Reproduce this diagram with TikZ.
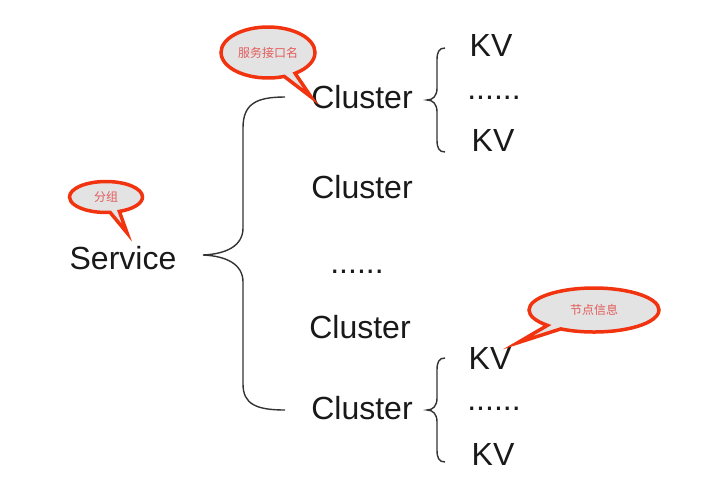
\documentclass[tikz,border=0pt]{standalone}
\usepackage{fontspec}
\setmainfont{Liberation Sans}
\newfontfamily\cjk{Noto Sans CJK SC}
\usetikzlibrary{shapes.callouts,calc}
\definecolor{bubbleline}{HTML}{F2330F}
\definecolor{bubblefill}{HTML}{E3E3E3}
\definecolor{bubbletext}{HTML}{E25B5B}
\definecolor{bracegray}{HTML}{333333}

\begin{document}
\begin{tikzpicture}[x=1pt,y=-1pt,
    word/.style = {inner sep=0pt, text height=22pt, text depth=0pt,
        font=\fontsize{32}{37}\selectfont, text=black!90},
    bubble/.style = {ellipse callout, draw=bubbleline, fill=bubblefill,
        line width=3.5pt, inner sep=0pt, text=bubbletext,
        font=\cjk\fontsize{12}{14}\selectfont},
    brace/.style = {draw=bracegray, line width=1.4pt}]
  \useasboundingbox (0,0) rectangle (727,485);
  % left column
  \node[word] (svc) at (123,258) {Service};
  % middle column
  \node[word] (c1) at (362,97) {Cluster};
  \node[word] (c2) at (362,187) {Cluster};
  \node[word] (cd) at (357,262.5) {......};
  \node[word] (c3) at (360,327) {Cluster};
  \node[word] (c4) at (362,408) {Cluster};
  % right column
  \node[word] (kv1) at (491,45) {KV};
  \node[word] (kd1) at (494,88.5) {......};
  \node[word] (kv2) at (493,140) {KV};
  \node[word] (kv3) at (490,358) {KV};
  \node[word] (kd2) at (494,399) {......};
  \node[word] (kv4) at (493,454) {KV};
  % braces
  \draw[brace] (285,97) .. controls (256,97) and (243,104) .. (243,128)
    -- (243,228) .. controls (243,246) and (226,254) .. (203,255)
    .. controls (226,256) and (243,264) .. (243,282)
    -- (243,384) .. controls (243,404) and (256,410) .. (285,410);
  \foreach \ty in {100,410}
    \draw[brace] (445,\ty-52) .. controls (439,\ty-52) and (437,\ty-48) .. (437,\ty-40)
      -- (437,\ty-12) .. controls (437,\ty-4) and (433,\ty) .. (427,\ty)
      .. controls (433,\ty) and (437,\ty+4) .. (437,\ty+12)
      -- (437,\ty+40) .. controls (437,\ty+48) and (439,\ty+52) .. (445,\ty+52);
  % callouts
  \node[bubble, minimum width=94pt, minimum height=51pt,
    callout absolute pointer={(c1.west)}] (b1) at (268,52.5) {服务接口名};
  \node[bubble, minimum width=73pt, minimum height=31pt,
    callout absolute pointer={($(svc.north)+(4,-14)$)}] (b2) at (106,197) {分组};
  \node[bubble, minimum width=130pt, minimum height=44pt,
    callout absolute pointer={($(kv3.north east)+(6,-4)$)}] (b3) at (594,310) {节点信息};
\end{tikzpicture}
\end{document}
